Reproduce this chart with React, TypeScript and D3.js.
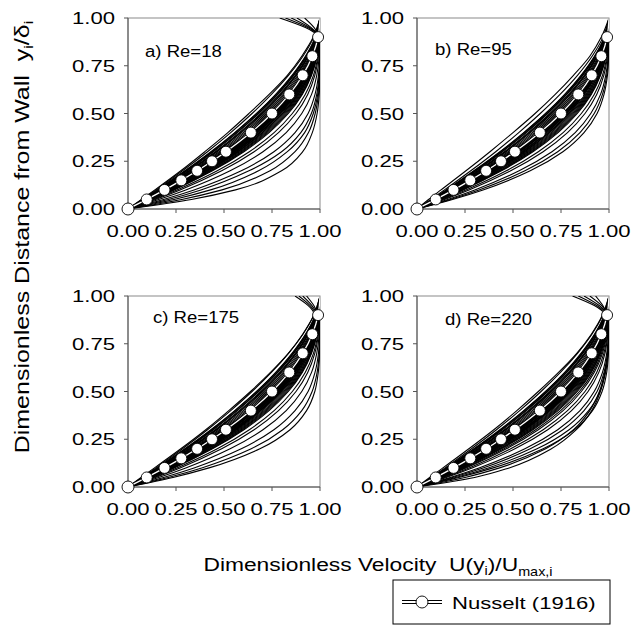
import React from "react";
import * as d3 from "d3";

const FONT = "'Liberation Sans', Arial, Helvetica, sans-serif";

// y levels (dimensionless distance) at which each profile's velocity is read
const Y_LEVELS = [0, 0.05, 0.1, 0.2, 0.3, 0.4, 0.5, 0.6, 0.7, 0.8, 0.9, 1.0];

// Nusselt (1916) reference points
const NUSSELT_X = [0, 0.0975, 0.19, 0.2775, 0.36, 0.4375, 0.51, 0.64, 0.75, 0.84, 0.91, 0.96, 0.99];
const NUSSELT_Y = [0, 0.05, 0.1, 0.15, 0.2, 0.25, 0.3, 0.4, 0.5, 0.6, 0.7, 0.8, 0.9];

const TICKS = [0, 0.25, 0.5, 0.75, 1];
const TICK_LABELS = ["0.00", "0.25", "0.50", "0.75", "1.00"];

const PANEL_LABELS = ["a) Re=18", "b) Re=95", "c) Re=175", "d) Re=220"];

// dense core of measured profiles, common to all four Reynolds numbers (U/Umax at Y_LEVELS)
const PROFILES_CORE = [
  [0, .079, .155, .300, .435, .558, .670, .769, .854, .924, .975, 1],
  [0, .081, .160, .308, .445, .570, .681, .780, .863, .930, .978, 1],
  [0, .084, .164, .316, .455, .580, .692, .789, .871, .935, .980, 1],
  [0, .082, .160, .305, .440, .565, .678, .778, .862, .930, .978, 1],
  [0, .088, .170, .322, .460, .585, .697, .795, .875, .938, .981, 1],
  [0, .078, .152, .296, .432, .556, .670, .772, .858, .927, .977, 1],
  [0, .086, .168, .323, .464, .591, .703, .799, .878, .940, .982, 1],
  [0, .088, .173, .331, .474, .601, .713, .808, .885, .945, .984, 1],
  [0, .090, .177, .338, .483, .611, .723, .816, .892, .949, .986, 1],
  [0, .093, .181, .346, .492, .621, .732, .825, .898, .953, .987, 1],
  [0, .095, .186, .353, .501, .631, .741, .833, .904, .957, .989, 1],
  [0, .098, .19, .36, .51, .64, .75, .84, .91, .96, .99, 1],
  [0, .100, .194, .367, .519, .649, .759, .847, .915, .963, .991, 1],
  [0, .102, .199, .374, .527, .658, .767, .854, .920, .966, .992, 1],
  [0, .104, .203, .381, .536, .667, .775, .861, .925, .969, .993, 1],
  [0, .107, .207, .388, .544, .675, .782, .867, .929, .971, .994, 1],
  [0, .109, .211, .395, .552, .683, .790, .873, .933, .973, .994, 1],
  [0, .111, .215, .401, .560, .691, .797, .879, .937, .975, .995, 1],
  [0, .114, .219, .408, .568, .699, .804, .884, .941, .977, .996, 1],
  [0, .116, .223, .415, .575, .707, .811, .889, .944, .979, .996, 1],
  [0, .118, .228, .420, .582, .714, .817, .894, .948, .981, .997, 1],
  [0, .120, .232, .428, .590, .721, .823, .899, .951, .982, .997, 1],
  [0, .122, .236, .434, .597, .728, .829, .904, .954, .984, .998, 1],
  [0, .108, .208, .386, .536, .662, .762, .846, .913, .961, .990, 1],
  [0, .090, .178, .345, .498, .632, .748, .842, .914, .964, .992, 1],
  [0, .112, .214, .396, .550, .676, .779, .860, .922, .966, .991, 1],
  [0, .094, .184, .356, .510, .645, .759, .852, .922, .969, .994, 1],
  [0, .104, .200, .372, .520, .647, .752, .838, .906, .957, .988, 1],
  [0, .097, .190, .364, .520, .656, .770, .862, .930, .974, .995, 1],
  [0, .115, .220, .405, .560, .688, .790, .868, .926, .967, .991, 1],
  [0, .100, .196, .372, .530, .665, .778, .866, .932, .974, .995, 1],
];

// sparse outer profiles, panel a) Re=18
const PROFILES_A = [
  [0, .07, .14, .275, .40, .52, .63, .735, .83, .905, .965, 1],
  [0, .074, .146, .284, .414, .535, .646, .747, .836, .911, .968, 1],
  [0, .125, .240, .440, .604, .735, .835, .908, .956, .985, .998, 1],
  [0, .134, .255, .465, .632, .761, .856, .923, .966, .989, .999, 1],
  [0, .143, .271, .488, .657, .784, .875, .936, .973, .992, .999, 1],
  [0, .160, .301, .532, .703, .824, .905, .956, .983, .996, 1, 1],
  [0, .185, .344, .590, .760, .870, .938, .974, .992, .998, 1, 1],
  [0, .21, .38, .63, .80, .90, .955, .983, .995, 1, 1, 1],
  [0, .24, .43, .68, .83, .92, .965, .988, .997, 1, 1, 1],
  [0, .28, .49, .74, .87, .94, .975, .992, 1, 1, 1, 1],
  [0, .33, .56, .80, .91, .96, .985, .996, 1, 1, 1, 1],
  [0, .105, .205, .385, .54, .67, .78, .865, .93, .975, .985, .79],
  [0, .10, .195, .37, .52, .655, .765, .855, .925, .97, .99, .82],
  [0, .11, .21, .395, .55, .685, .79, .875, .94, .98, .99, .85],
  [0, .098, .19, .36, .515, .645, .755, .845, .915, .965, .988, .88],
  [0, .115, .22, .41, .57, .70, .805, .885, .945, .98, .992, .92],
];

// panel b) Re=95
const PROFILES_B = [
  [0, .06, .125, .255, .38, .50, .615, .72, .815, .90, .96, 1],
  [0, .072, .143, .28, .41, .53, .642, .745, .836, .912, .969, 1],
  [0, .125, .240, .440, .604, .735, .835, .908, .956, .985, .998, 1],
  [0, .134, .255, .465, .632, .761, .856, .923, .966, .989, .999, 1],
  [0, .143, .271, .488, .657, .784, .875, .936, .973, .992, .999, 1],
  [0, .160, .301, .532, .703, .824, .905, .956, .983, .996, 1, 1],
  [0, .173, .323, .562, .733, .849, .923, .966, .988, .997, 1, 1],
  [0, .185, .344, .590, .760, .870, .938, .974, .992, .998, 1, 1],
];

// panel c) Re=175
const PROFILES_C = [
  [0, .068, .138, .275, .405, .525, .638, .742, .835, .91, .968, 1],
  [0, .074, .146, .284, .414, .535, .646, .747, .836, .911, .968, 1],
  [0, .125, .240, .440, .604, .735, .835, .908, .956, .985, .998, 1],
  [0, .134, .255, .465, .632, .761, .856, .923, .966, .989, .999, 1],
  [0, .143, .271, .488, .657, .784, .875, .936, .973, .992, .999, 1],
  [0, .160, .301, .532, .703, .824, .905, .956, .983, .996, 1, 1],
  [0, .185, .344, .590, .760, .870, .938, .974, .992, .998, 1, 1],
  [0, .210, .384, .642, .806, .905, .959, .985, .996, 1, 1, 1],
  [0, .234, .422, .687, .844, .930, .973, .991, .998, 1, 1, 1],
  [0, .104, .202, .38, .535, .665, .775, .86, .925, .965, .975, .89],
  [0, .108, .208, .39, .546, .677, .785, .868, .93, .97, .98, .91],
  [0, .112, .216, .402, .56, .69, .797, .878, .937, .975, .985, .93],
  [0, .101, .197, .37, .523, .652, .762, .85, .918, .962, .97, .87],
];

// panel d) Re=220
const PROFILES_D = [
  [0, .066, .135, .27, .40, .52, .632, .737, .832, .908, .966, 1],
  [0, .074, .146, .284, .414, .535, .646, .747, .836, .911, .968, 1],
  [0, .125, .240, .440, .604, .735, .835, .908, .956, .985, .998, 1],
  [0, .129, .248, .453, .618, .748, .846, .916, .961, .987, .998, 1],
  [0, .134, .255, .465, .632, .761, .856, .923, .966, .989, .999, 1],
  [0, .143, .271, .488, .657, .784, .875, .936, .973, .992, .999, 1],
  [0, .152, .287, .510, .681, .805, .891, .947, .979, .994, 1, 1],
  [0, .173, .323, .562, .733, .849, .923, .966, .988, .997, 1, 1],
  [0, .185, .344, .590, .760, .870, .938, .974, .992, .998, 1, 1],
  [0, .202, .371, .625, .792, .894, .953, .982, .995, 1, 1, 1],
  [0, .218, .397, .657, .820, .914, .964, .988, .997, 1, 1, 1],
  [0, .25, .43, .67, .815, .90, .95, .978, .993, 1, 1, 1],
  [0, .30, .48, .70, .83, .91, .955, .98, .995, 1, 1, 1],
  [0, .105, .203, .381, .536, .667, .775, .861, .925, .968, .975, .81],
  [0, .102, .199, .374, .527, .658, .767, .854, .920, .965, .98, .84],
  [0, .108, .21, .392, .55, .68, .787, .87, .932, .972, .985, .87],
  [0, .111, .215, .401, .56, .691, .797, .879, .937, .975, .99, .90],
  [0, .099, .193, .364, .515, .645, .755, .843, .912, .962, .985, .93],
];

const PANEL_PROFILES = [PROFILES_A, PROFILES_B, PROFILES_C, PROFILES_D];

const PANEL_LEFT = [128, 417];
const PANEL_TOP = [18, 296];
const PW = 192;
const PH = 191;
const LABEL_OFFSET = [[17, 39], [18, 37], [25, 27], [28, 29]];

function SText(props: any) {
  const { x, y, sx = 1, size, anchor = "start", children } = props;
  return (
    <text
      transform={`translate(${x},${y}) scale(${sx},1)`}
      fontSize={size}
      textAnchor={anchor}
      fontFamily={FONT}
      fill="#000"
    >
      {children}
    </text>
  );
}

function Panel(props: any) {
  const { idx } = props;
  const left = PANEL_LEFT[idx % 2];
  const top = PANEL_TOP[Math.floor(idx / 2)];
  const x = d3.scaleLinear().domain([0, 1]).range([left, left + PW]);
  const y = d3.scaleLinear().domain([0, 1]).range([top + PH, top]);
  const line = d3
    .line<[number, number]>()
    .x((d) => x(d[0]))
    .y((d) => y(d[1]))
    .curve(d3.curveMonotoneY);
  const profPath = (xs: number[]) =>
    line(xs.map((v, i) => [v, Y_LEVELS[i]] as [number, number]).reverse()) || "";
  const nusPts = NUSSELT_X.map((v, i) => [v, NUSSELT_Y[i]] as [number, number]);
  const nusPath = line([...nusPts, [1, 1] as [number, number]].reverse()) || "";
  const clipId = `clip${idx}`;
  const [lx, ly] = LABEL_OFFSET[idx];
  const profiles = [...PROFILES_CORE, ...PANEL_PROFILES[idx]];
  return (
    <g>
      <defs>
        <clipPath id={clipId}>
          <rect x={left} y={top} width={PW} height={PH} />
        </clipPath>
      </defs>
      <rect x={left} y={top} width={PW} height={PH} fill="none" stroke="#8a8a8a" strokeWidth={1} />
      <g clipPath={`url(#${clipId})`}>
        {profiles.map((p, i) => (
          <path key={i} d={profPath(p)} fill="none" stroke="#000" strokeWidth={1.1} />
        ))}
        <path d={nusPath} fill="none" stroke="#fff" strokeWidth={1.3} />
      </g>
      <line x1={left} x2={left} y1={top} y2={top + PH} stroke="#555" strokeWidth={1} />
      <line x1={left} x2={left + PW} y1={top + PH} y2={top + PH} stroke="#555" strokeWidth={1} />
      {TICKS.map((t, i) => (
        <g key={"t" + i}>
          <line x1={left - 4} x2={left} y1={y(t)} y2={y(t)} stroke="#555" strokeWidth={1} />
          <line x1={x(t)} x2={x(t)} y1={top + PH} y2={top + PH + 4} stroke="#555" strokeWidth={1} />
          <SText x={left - 13} y={y(t) + 6} sx={1.3} size={17} anchor="end">
            {TICK_LABELS[i]}
          </SText>
          <SText x={x(t)} y={top + PH + 28} sx={1.3} size={17} anchor="middle">
            {TICK_LABELS[i]}
          </SText>
        </g>
      ))}
      {nusPts.map((p, i) => (
        <circle key={"c" + i} cx={x(p[0])} cy={y(p[1])} r={i === 0 ? 6 : 5.5} fill="#fff" stroke="#000" strokeWidth={0.9} />
      ))}
      <SText x={left + lx} y={top + ly} sx={1.16} size={16}>
        {PANEL_LABELS[idx]}
      </SText>
    </g>
  );
}

export default function App() {
  return (
    <svg width={632} height={639} style={{ display: "block", position: "absolute", left: 0, top: 0 }}>
      <rect x={0} y={0} width={632} height={639} fill="#fff" />
      {[0, 1, 2, 3].map((i) => (
        <Panel key={i} idx={i} />
      ))}
      <g transform="translate(29,237) rotate(-90) scale(1.25,1)">
        <text textAnchor="middle" fontSize={20} fontFamily={FONT} fill="#000">
          Dimensionless Distance from Wall{"\u00A0\u00A0"}y
          <tspan fontSize={13} dy={4}>i</tspan>
          <tspan dy={-4}>/δ</tspan>
          <tspan fontSize={13} dy={4}>i</tspan>
        </text>
      </g>
      <g transform="translate(378,571) scale(1.2,1)">
        <text textAnchor="middle" fontSize={19} fontFamily={FONT} fill="#000">
          Dimensionless Velocity{"\u00A0\u00A0"}U(y
          <tspan fontSize={12} dy={4}>i</tspan>
          <tspan dy={-4}>)/U</tspan>
          <tspan fontSize={12} dy={5}>max,i</tspan>
        </text>
      </g>
      <rect x={393} y={580} width={217} height={44} fill="#fff" stroke="#000" strokeWidth={1} />
      <line x1={402} x2={442} y1={602} y2={602} stroke="#000" strokeWidth={4} />
      <line x1={402} x2={442} y1={602} y2={602} stroke="#fff" strokeWidth={2} />
      <circle cx={422} cy={602} r={6} fill="#fff" stroke="#000" strokeWidth={0.9} />
      <SText x={452} y={609} sx={1.3} size={17}>
        Nusselt (1916)
      </SText>
    </svg>
  );
}
